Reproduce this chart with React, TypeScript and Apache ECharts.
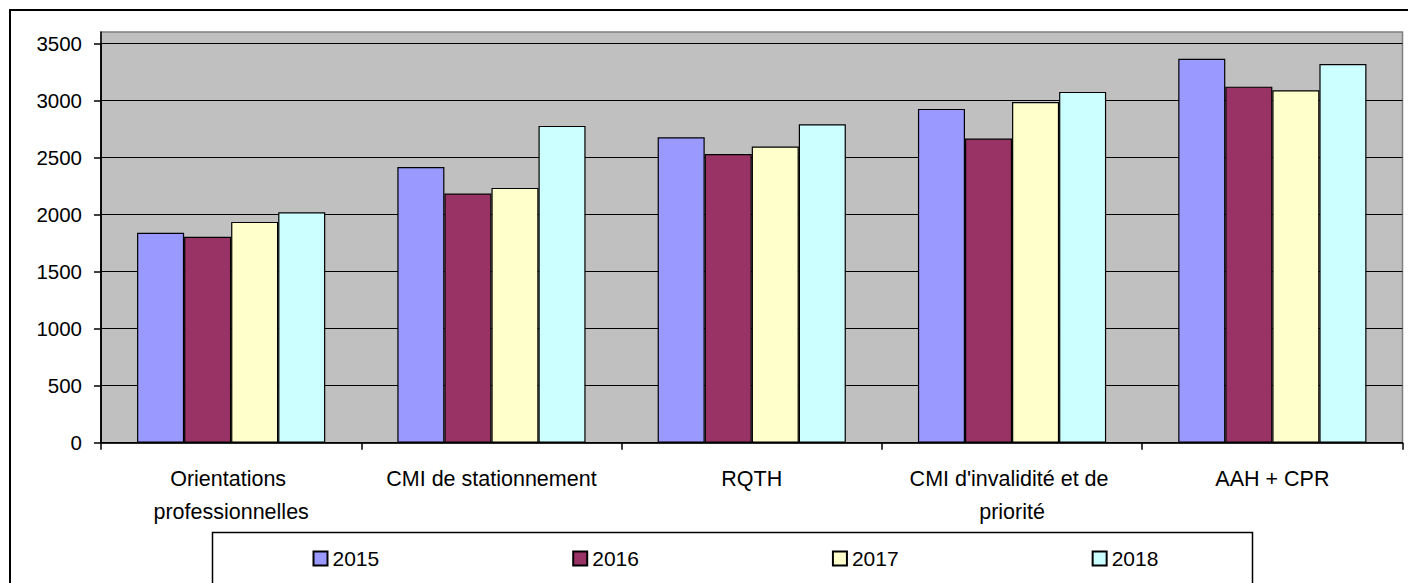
import React, { useEffect, useRef } from "react";
import * as echarts from "echarts";

const categories = [
  "Orientations professionnelles",
  "CMI de stationnement",
  "RQTH",
  "CMI d'invalidité et de priorité",
  "AAH + CPR",
];
const years = ["2015", "2016", "2017", "2018"];
const values2015 = [1840, 2415, 2677, 2925, 3365];
const values2016 = [1805, 2183, 2530, 2665, 3120];
const values2017 = [1935, 2233, 2595, 2986, 3088];
const values2018 = [2020, 2776, 2790, 3074, 3319];
const yTicks = { min: 0, max: 3500, interval: 500 };

const seriesValues = [values2015, values2016, values2017, values2018];
const colors = ["#9999FF", "#993366", "#FFFFCC", "#CCFFFF"];

export default function App() {
  const ref = useRef<HTMLDivElement>(null);
  useEffect(() => {
    document.body.style.margin = "0";
    const chart = echarts.init(ref.current!, null, { renderer: "svg" });
    const font = "'Liberation Sans', Arial, sans-serif";
    chart.setOption({
      animation: false,
      backgroundColor: "#ffffff",
      grid: { left: 101, right: 5.5, top: 43.3, bottom: 140.3, containLabel: false },
      graphic: [
        {
          type: "rect",
          z: -10,
          silent: true,
          shape: { x: 10, y: 10, width: 1500, height: 800 },
          style: { fill: "none", stroke: "#000", lineWidth: 2 },
        },
        {
          type: "rect",
          z: -10,
          silent: true,
          shape: { x: 101, y: 32, width: 1301.5, height: 411 },
          style: { fill: "#C0C0C0", stroke: "#808080", lineWidth: 1.5 },
        },
        {
          type: "line",
          silent: true,
          shape: { x1: 101, y1: 31.5, x2: 101, y2: 443 },
          style: { stroke: "#000", lineWidth: 1.5 },
        },
        {
          type: "rect",
          silent: true,
          shape: { x: 212.5, y: 532.5, width: 1040, height: 80 },
          style: { fill: "#fff", stroke: "#000", lineWidth: 1.5 },
        },
      ],
      legend: {
        data: years,
        left: 312.5,
        top: 548,
        padding: 0,
        itemWidth: 14,
        itemHeight: 14,
        itemGap: 193,
        icon: "rect",
        z: 10,
        textStyle: { fontFamily: font, fontSize: 21, color: "#000", padding: [0, 0, 0, 0] },
      },
      xAxis: {
        type: "category",
        data: categories,
        axisLine: { show: true, lineStyle: { color: "#000", width: 1.5 } },
        axisTick: { show: true, length: 7, alignWithLabel: false, interval: 0, lineStyle: { color: "#000", width: 1.5 } },
        axisLabel: {
          interval: 0,
          margin: 20,
          fontFamily: font,
          fontSize: 21.5,
          color: "#000",
          lineHeight: 33,
          width: 230,
          overflow: "break",
        },
        splitLine: { show: false },
      },
      yAxis: {
        type: "value",
        min: yTicks.min,
        max: yTicks.max,
        interval: yTicks.interval,
        axisLine: { show: true, lineStyle: { color: "#000", width: 1.5 } },
        axisTick: { show: true, length: 7, lineStyle: { color: "#000", width: 1.5 } },
        axisLabel: {
          margin: 19,
          fontFamily: font,
          fontSize: 20.5,
          color: "#000",
          formatter: (v: number) => String(v),
        },
        splitLine: { show: true, lineStyle: { color: "#000", width: 1.2 } },
      },
      series: years.map((y, i) => ({
        name: y,
        type: "bar",
        data: seriesValues[i],
        barGap: "0%",
        barCategoryGap: "27.7%",
        itemStyle: { color: colors[i], borderColor: "#000", borderWidth: 1.2 },
      })),
    });
    return () => chart.dispose();
  }, []);
  return <div ref={ref} style={{ width: 1408, height: 583 }} />;
}
